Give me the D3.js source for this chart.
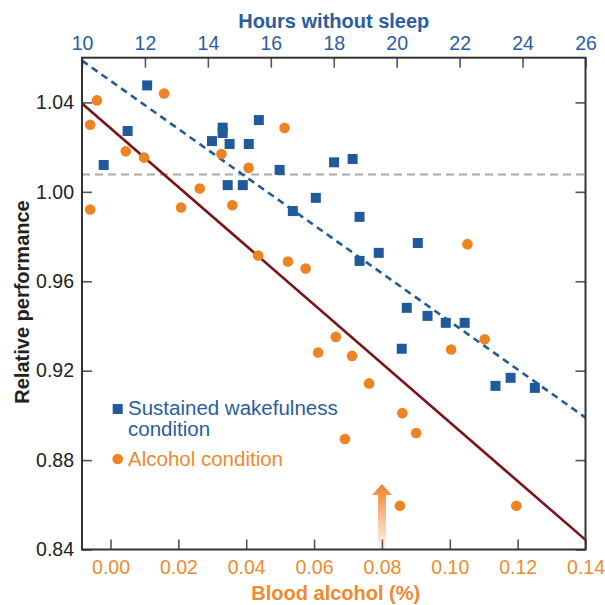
<!DOCTYPE html>
<html>
<head>
<meta charset="utf-8">
<script src="https://cdn.jsdelivr.net/npm/d3@7/dist/d3.min.js"></script>
<style>
  html, body { margin: 0; padding: 0; background: #fff; }
  svg { display: block; font-family: "Liberation Sans", Arial, Helvetica, sans-serif; }
</style>
</head>
<body>
<svg id="chart" width="605" height="605"></svg>
<script>
// ---- Data ----
const sleepHours = [12.07, 11.45, 10.69, 14.47, 14.47, 14.13, 14.69, 15.30, 15.62, 16.28,
                    18.01, 14.63, 15.11, 17.43, 16.70, 18.60, 18.82, 20.67, 19.43, 18.82,
                    20.32, 20.98, 21.56, 22.16, 20.16, 23.14, 23.62, 24.39];
const sleepPerf  = [1.0476, 1.0272, 1.012, 1.0287, 1.0263, 1.0227, 1.0214, 1.0214, 1.0321, 1.0098,
                    1.0132, 1.003, 1.003, 0.9973, 0.9914, 1.0147, 0.9888, 0.9771, 0.9727, 0.9691,
                    0.9481, 0.9445, 0.9414, 0.9414, 0.9298, 0.9132, 0.9168, 0.9123];

const alcoholBAC  = [-0.0040, 0.0158, -0.0060, 0.0045, 0.0099, 0.0513, 0.0327, 0.0407, -0.0060,
                     0.0208, 0.0263, 0.0359, 0.0435, 0.0523, 0.0575, 0.1052, 0.0664, 0.0612,
                     0.0712, 0.0762, 0.1004, 0.1103, 0.0860, 0.0901, 0.0853, 0.1196, 0.0691];
const alcoholPerf = [1.0409, 1.044, 1.030, 1.0181, 1.0153, 1.0286, 1.0169, 1.0107, 0.9921,
                     0.993, 1.0015, 0.994, 0.9715, 0.9688, 0.9657, 0.9766, 0.9351, 0.9281,
                     0.9266, 0.9143, 0.9295, 0.934, 0.901, 0.8921, 0.8596, 0.8596, 0.8894];

const sleepFitHours = [10, 26];
const sleepFitPerf  = [1.0587, 0.899];
const alcoholFitBAC  = [-0.0084, 0.14];
const alcoholFitPerf = [1.0395, 0.8443];
const baselinePerf = 1.0078;

const hourTicks = [10, 12, 14, 16, 18, 20, 22, 24, 26];
const bacTicks  = [0, 0.02, 0.04, 0.06, 0.08, 0.10, 0.12, 0.14];
const perfTicks = [0.84, 0.88, 0.92, 0.96, 1.00, 1.04];
const arrowBAC = 0.08;
const arrowPerf = [0.8693, 0.84];

const topTitle = "Hours without sleep";
const bottomTitle = "Blood alcohol (%)";
const leftTitle = "Relative performance";
const legendSleep = ["Sustained wakefulness", "condition"];
const legendAlcohol = "Alcohol condition";

// ---- Styles ----
const BLUE = "#215a9a";
const BLUE_TXT = "#2a5d9f";
const ORANGE = "#ee8322";
const ORANGE_TXT = "#ef8a2e";
const RED = "#7a1416";

const L = 82, R = 585.5, T = 57.7, B = 549.5;

const svg = d3.select("#chart");

const xH = d3.scaleLinear().domain([10, 26]).range([L, R]);
const xB = d3.scaleLinear().domain([-0.0084, 0.14]).range([L, R]);
const y  = d3.scaleLinear().domain([0.84, 1.06]).range([B, T]);

// gradient for arrow
const defs = svg.append("defs");
const grad = defs.append("linearGradient").attr("id", "arrowGrad")
  .attr("x1", 0).attr("y1", 0).attr("x2", 0).attr("y2", 1);
grad.append("stop").attr("offset", "0%").attr("stop-color", "#ee8226").attr("stop-opacity", 1);
grad.append("stop").attr("offset", "100%").attr("stop-color", "#ee8226").attr("stop-opacity", 0.05);

// Axes
function styleAxis(g) {
  g.select(".domain").remove();
  g.selectAll(".tick line").attr("stroke", "#555").attr("stroke-width", 1.6);
}

svg.append("g").attr("transform", `translate(0,${T})`)
  .call(d3.axisTop(xH).tickValues(hourTicks).tickSize(-10).tickPadding(8).tickFormat(d3.format("d")))
  .call(styleAxis)
  .call(g => g.selectAll("text").attr("fill", BLUE_TXT).attr("font-size", "19.5px").attr("font-family", "Liberation Sans, Arial, sans-serif"));

svg.append("g").attr("transform", `translate(0,${B})`)
  .call(d3.axisBottom(xB).tickValues(bacTicks).tickSize(-10).tickPadding(11).tickFormat(d3.format(".2f")))
  .call(styleAxis)
  .call(g => g.selectAll("text").attr("fill", ORANGE_TXT).attr("font-size", "19.5px").attr("font-family", "Liberation Sans, Arial, sans-serif"));

svg.append("g").attr("transform", `translate(${L},0)`)
  .call(d3.axisLeft(y).tickValues(perfTicks).tickSize(-10).tickPadding(8).tickFormat(d3.format(".2f")))
  .call(styleAxis)
  .call(g => g.selectAll("text").attr("fill", "#222").attr("font-size", "19.5px").attr("font-family", "Liberation Sans, Arial, sans-serif"));

svg.append("g").attr("transform", `translate(${R},0)`)
  .call(d3.axisRight(y).tickValues(perfTicks).tickSize(-10).tickFormat(""))
  .call(styleAxis);

// baseline gray dashed
svg.append("line")
  .attr("x1", L).attr("x2", R)
  .attr("y1", y(baselinePerf)).attr("y2", y(baselinePerf))
  .attr("stroke", "#aaaaaa").attr("stroke-width", 2).attr("stroke-dasharray", "8,5");

// arrow
{
  const cx = xB(arrowBAC);
  const yt = y(arrowPerf[0]);
  const yb = y(arrowPerf[1]);
  const headH = 11, headW = 10, shaftW = 4;
  const p = d3.path();
  p.moveTo(cx, yt);
  p.lineTo(cx + headW, yt + headH);
  p.lineTo(cx + shaftW, yt + headH);
  p.lineTo(cx + shaftW, yb);
  p.lineTo(cx - shaftW, yb);
  p.lineTo(cx - shaftW, yt + headH);
  p.lineTo(cx - headW, yt + headH);
  p.closePath();
  svg.append("path").attr("d", p.toString()).attr("fill", "url(#arrowGrad)");
}

// fit lines
const lineH = d3.line().x(d => xH(d[0])).y(d => y(d[1]));
const lineB = d3.line().x(d => xB(d[0])).y(d => y(d[1]));
svg.append("path")
  .datum(d3.zip(alcoholFitBAC, alcoholFitPerf))
  .attr("d", lineB).attr("fill", "none").attr("stroke", RED).attr("stroke-width", 2.6);
svg.append("path")
  .datum(d3.zip(sleepFitHours, sleepFitPerf))
  .attr("d", lineH).attr("fill", "none").attr("stroke", BLUE).attr("stroke-width", 2.6)
  .attr("stroke-dasharray", "7,5");

// points
const sq = 10;
svg.append("g").selectAll("rect")
  .data(d3.zip(sleepHours, sleepPerf))
  .join("rect")
  .attr("x", d => xH(d[0]) - sq / 2).attr("y", d => y(d[1]) - sq / 2)
  .attr("width", sq).attr("height", sq).attr("fill", BLUE);

svg.append("g").selectAll("circle")
  .data(d3.zip(alcoholBAC, alcoholPerf))
  .join("circle")
  .attr("cx", d => xB(d[0])).attr("cy", d => y(d[1])).attr("r", 5.3).attr("fill", ORANGE);

// border
svg.append("rect").attr("x", L).attr("y", T).attr("width", R - L).attr("height", B - T)
  .attr("fill", "none").attr("stroke", "#333").attr("stroke-width", 2);

// titles
svg.append("text").attr("x", (L + R) / 2).attr("y", 28).attr("text-anchor", "middle")
  .attr("font-weight", "bold").attr("font-size", "20px").attr("fill", BLUE_TXT).text(topTitle);
svg.append("text").attr("x", (L + R) / 2 + 2).attr("y", 600).attr("text-anchor", "middle")
  .attr("font-weight", "bold").attr("font-size", "20px").attr("fill", ORANGE_TXT).text(bottomTitle);
svg.append("text").attr("transform", `translate(29,302) rotate(-90)`).attr("text-anchor", "middle")
  .attr("font-weight", "bold").attr("font-size", "20px").attr("fill", "#222").text(leftTitle);

// legend
svg.append("rect").attr("x", 112.7).attr("y", 404).attr("width", 10).attr("height", 10).attr("fill", BLUE);
svg.append("text").attr("x", 128).attr("y", 415).attr("font-size", "20.5px").attr("fill", BLUE_TXT).text(legendSleep[0]);
svg.append("text").attr("x", 128).attr("y", 436).attr("font-size", "20.5px").attr("fill", BLUE_TXT).text(legendSleep[1]);
svg.append("circle").attr("cx", 117.7).attr("cy", 459).attr("r", 5.3).attr("fill", ORANGE);
svg.append("text").attr("x", 128).attr("y", 466).attr("font-size", "20.5px").attr("fill", ORANGE_TXT).text(legendAlcohol);
</script>
</body>
</html>
